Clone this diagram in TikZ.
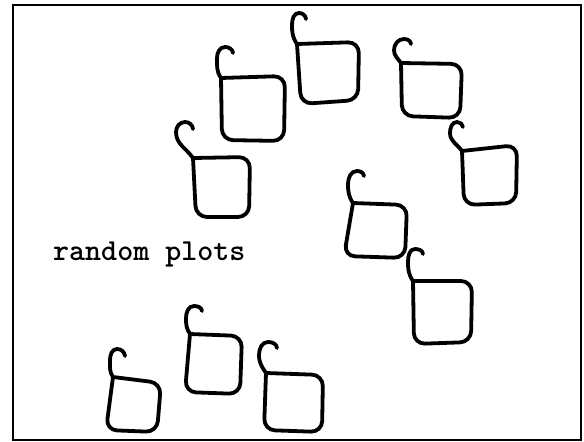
\documentclass[tikz,border=0pt]{standalone}
\begin{document}
\begin{tikzpicture}[x=1pt,y=1pt,
  frameline/.style={line width=2pt,black},
  plotline/.style={line width=3.8pt,black,line cap=round,line join=round},
  labeltext/.style={font=\fontsize{30.5}{32}\selectfont\ttfamily\bfseries,inner sep=0pt,anchor=base west}]
\useasboundingbox (0,0) rectangle (584,-442);
\fill[white] (0,0) rectangle (584,-442);
\draw[frameline] (13,-5) rectangle (581,-440);
% hook P (tip) -> T (top) -> L (left) -> TL, then square TL,TR,BR,BL back to TL
\newcommand\drawplot[7]{%
  \draw[plotline] #1 to[out=95,in=0] #2 to[out=180,in=90] #3 to[out=-90,in=125] #4
    [rounded corners=11pt] -- #5 -- #6 -- #7 -- #4;}
% A
\drawplot{(233,-53)}{(225,-47)}{(217,-58)}{(221,-78)}{(285,-76)}{(284,-141)}{(222,-140)}
% B
\drawplot{(193,-129)}{(185,-122)}{(176,-132)}{(193,-158)}{(250,-157)}{(249,-217)}{(196,-217)}
% C
\drawplot{(306,-19)}{(299,-13)}{(292,-25)}{(297,-44)}{(359,-42)}{(358,-100)}{(301,-104)}
% D
\drawplot{(411,-44)}{(404,-39)}{(394,-50)}{(401,-63)}{(462,-64)}{(460,-118)}{(402,-116)}
% E
\drawplot{(463,-127)}{(457,-122)}{(450,-133)}{(462,-151)}{(517,-145)}{(516,-203)}{(464,-205)}
% F
\drawplot{(364,-176)}{(357,-171)}{(348,-184)}{(353,-203)}{(407,-205)}{(405,-258)}{(344,-256)}
% G
\drawplot{(423,-254)}{(415,-249)}{(408,-262)}{(413,-281)}{(472,-281)}{(471,-342)}{(414,-344)}
% H
\drawplot{(125,-356)}{(117,-349)}{(110,-360)}{(113,-377)}{(161,-383)}{(157,-432)}{(106,-430)}
% I
\drawplot{(202,-311)}{(194,-306)}{(186,-318)}{(190,-334)}{(242,-336)}{(240,-394)}{(185,-392)}
% J
\drawplot{(277,-348)}{(268,-342)}{(259,-355)}{(266,-373)}{(323,-375)}{(322,-432)}{(264,-430)}
\node[labeltext] (lbl) at (53,-260) {random plots};
\end{tikzpicture}
\end{document}
